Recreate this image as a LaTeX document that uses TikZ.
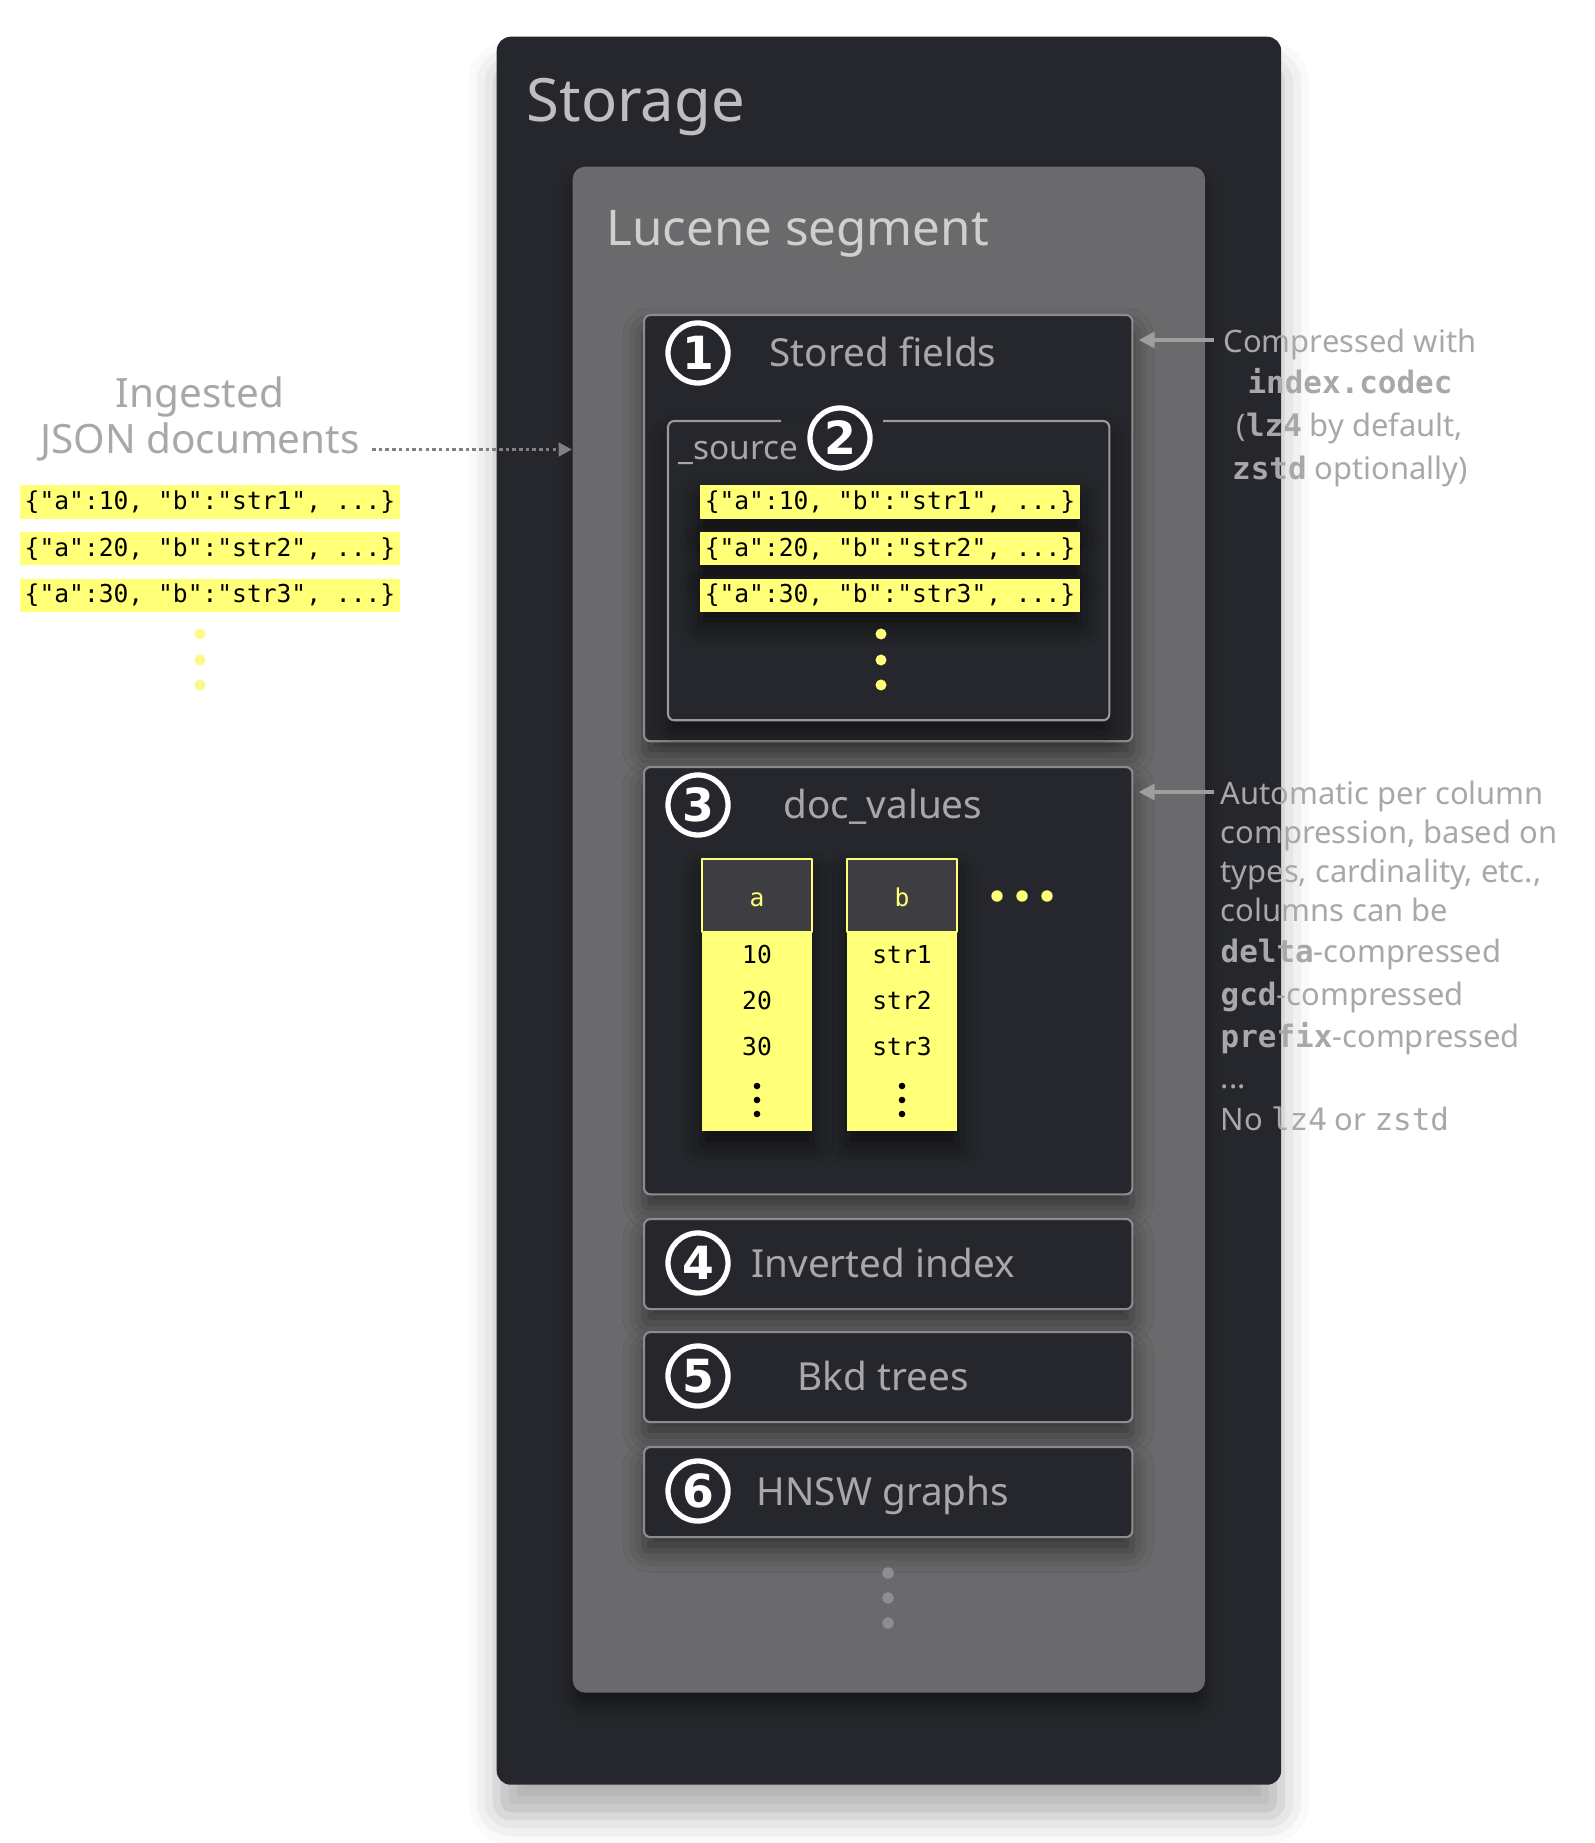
\documentclass[tikz,border=0pt]{standalone}
\usepackage{fontspec}
\setmainfont{Noto Sans}
\setmonofont{DejaVu Sans Mono}
\newfontfamily\numfont{DejaVu Sans}
\usetikzlibrary{arrows.meta,shadows.blur}
\definecolor{darkbg}{HTML}{26272C}
\definecolor{segbg}{HTML}{6A6A6C}
\definecolor{panelline}{HTML}{8C8C8E}
\definecolor{srcline}{HTML}{9A9A9C}
\definecolor{hlyellow}{HTML}{FFFF78}
\definecolor{paleyellow}{HTML}{FAFA8A}
\definecolor{headbg}{HTML}{3E3E42}
\definecolor{txtgray}{HTML}{A8A8A8}
\definecolor{titlegray}{HTML}{BEBEBE}
\definecolor{segtitle}{HTML}{CFCFCF}
\definecolor{arrowgray}{HTML}{9E9E9E}
\definecolor{feedgray}{HTML}{808080}
\definecolor{dotgray}{HTML}{8E8E90}
\newcommand{\fsz}[1]{\fontsize{#1}{#1}\selectfont}
\tikzset{
	outerbox/.style={fill=darkbg,rounded corners=4pt,anchor=north west,inner sep=0pt,
		blur shadow={shadow xshift=0pt,shadow yshift=-9pt,shadow blur radius=8pt,shadow opacity=30}},
	segbox/.style={fill=segbg,rounded corners=3.5pt,anchor=north west,inner sep=0pt,
		blur shadow={shadow xshift=0pt,shadow yshift=-4pt,shadow blur radius=4pt,shadow opacity=40}},
	panel/.style={fill=darkbg,draw=panelline,line width=0.6pt,rounded corners=1.8pt,anchor=north west,inner sep=0pt,
		blur shadow={shadow xshift=0pt,shadow yshift=-4pt,shadow blur radius=6pt,shadow opacity=50}},
	num/.style={circle,draw=white,line width=1.5pt,minimum size=0.6cm,inner sep=0pt,text=white,font=\numfont\bfseries\fsz{13}},
	paneltitle/.style={anchor=base,text=txtgray,font=\fsz{11}},
	jsonrow/.style={fill=hlyellow,minimum width=3.8cm,minimum height=0.33cm,inner sep=0pt,text=black,font=\ttfamily\fsz{7}},
	rowshadow/.style={blur shadow={shadow xshift=0pt,shadow yshift=-4pt,shadow blur radius=6pt,shadow opacity=60}},
	colbody/.style={fill=hlyellow,minimum width=1.1cm,minimum height=2.72cm,inner sep=0pt,rowshadow},
	colhead/.style={fill=headbg,draw=hlyellow,line width=0.7pt,minimum width=1.1cm,minimum height=0.73cm,inner sep=0pt,
		text=hlyellow,font=\ttfamily\fsz{7},text height=6pt,text depth=0pt},
	cellval/.style={anchor=base,inner sep=0pt,text=black,font=\ttfamily\fsz{7}},
	anntext/.style={inner sep=0pt,text=txtgray,font=\fsz{8.8}},
	annarrow/.style={draw=arrowgray,line width=0.9pt,-{Triangle[length=4.5pt,width=4.5pt]},shorten >=1.5pt},
	feedarrow/.style={draw=feedgray,line width=1pt,dash pattern=on 1pt off 0.9pt,-{Triangle[length=3.8pt,width=3.8pt]}}
}
\begin{document}
\begin{tikzpicture}[x=0.01cm,y=-0.01cm,line join=round]
	\useasboundingbox (0,0) rectangle (1594,1843);
	% storage and segment
	\node[outerbox,minimum width=7.84cm,minimum height=17.47cm] (storage) at (496,36) {};
	\node[anchor=base west,inner sep=0pt,text=titlegray,font=\fsz{17}] (storagetitle) at (526,122) {Storage};
	\node[segbox,minimum width=6.32cm,minimum height=15.25cm] (lucene) at (572,166) {};
	\node[anchor=base west,inner sep=0pt,text=segtitle,font=\fsz{14}] (lucenetitle) at (606,246) {Lucene segment};
	% stored fields
	\node[panel,minimum width=4.88cm,minimum height=4.26cm] (stored) at (643,314) {};
	\node[num] (n1) at (698,353) {1};
	\node[paneltitle] (storedtitle) at (883,367) {Stored fields};
	\node[panel,draw=none,minimum width=4.39cm,minimum height=2.97cm] (source) at (668,421) {};
	\draw[srcline,line width=0.6pt,rounded corners=1.8pt] ([xshift=1.13cm]source.north west) -| (source.south west)
		-| (source.north east) -- ([xshift=-2.26cm]source.north east);
	\node[num] (n2) at (840,438) {2};
	\node[anchor=base west,inner sep=0pt,text=txtgray,font=\fsz{9.5}] (sourcelabel) at (678,460) {\_source};
	\foreach \v/\s [count=\i] in {10/1,20/2,30/3}{
		\node[jsonrow,rowshadow] (src\i) at (890,{455.3+46.7*\i}) {\{"a":\v, "b":"str\s", ...\}};
		\node[jsonrow] (ing\i) at (210,{455.3+46.7*\i}) {\{"a":\v, "b":"str\s", ...\}};
	}
	\foreach \yy in {634,660,685}{
		\fill[hlyellow] (881,\yy) circle (0.055cm);
		\fill[paleyellow] (200,\yy) circle (0.056cm);
	}
	% ingested documents
	\node[anchor=base,text=txtgray,font=\fsz{11.5}] (ingtitle) at (200,408) {Ingested};
	\node[anchor=base,text=txtgray,font=\fsz{11.5}] (ingest) at (200,454) {JSON documents};
	\draw[feedarrow] ([yshift=-2pt]ingest.east) -- ([yshift=-2pt]ingest.east -| lucene.west);
	% doc values
	\node[panel,minimum width=4.88cm,minimum height=4.27cm] (docvalues) at (643,766) {};
	\node[num] (n3) at (698,805) {3};
	\node[paneltitle] (doctitle) at (883,818) {doc\_values};
	\foreach \cx/\hd/\va/\vb/\vc in {757/a/10/20/30,902/b/str1/str2/str3}{
		\node[colbody] (col\hd) at (\cx,995) {};
		\node[colhead] (head\hd) at (\cx,895.5) {\hd};
		\node[cellval] at (\cx,963) {\va};
		\node[cellval] at (\cx,1009) {\vb};
		\node[cellval] at (\cx,1055) {\vc};
		\foreach \yy in {1086,1100,1114}
			\fill[black] (\cx,\yy) circle (0.033cm);
	}
	\foreach \xx in {997,1022,1047}
		\fill[hlyellow] (\xx,896) circle (0.057cm);
	% other parts
	\foreach \nm/\nn/\tp/\txt in {inv/4/1218/Inverted index,bkd/5/1331/Bkd trees,hnsw/6/1446/HNSW graphs}{
		\node[panel,minimum width=4.88cm,minimum height=0.9cm] (\nm) at (643,\tp) {};
		\node[num] (n\nn) at (698,\tp+45) {\nn};
		\node[paneltitle] (\nm title) at (883,\tp+59) {\txt};
	}
	\foreach \yy in {1573,1598,1623}
		\fill[dotgray] (888,\yy) circle (0.057cm);
	% notes
	\coordinate (c1) at (1214,340);
	\draw[annarrow] (c1) -- (c1 -| stored.east);
	\foreach \annline/\yy [count=\i] in {{Compressed with}/353,{\ttfamily\bfseries index.codec}/394,
		{(\texttt{\bfseries lz4} by default,}/437,{\texttt{\bfseries zstd} optionally)}/480}
		\node[anntext,anchor=base] (notesf\i) at (1350,\yy) {\annline};
	\coordinate (c3) at (1214,792);
	\draw[annarrow] (c3) -- (c3 -| docvalues.east);
	\foreach \annline/\yy [count=\i] in {{Automatic per column}/804,{compression, based on}/843,
		{types, cardinality, etc.,}/882,{columns can be}/921,{\texttt{\bfseries delta}-compressed}/962,
		{\texttt{\bfseries gcd}-compressed}/1005,{\texttt{\bfseries prefix}-compressed}/1047,{.{}.{}.}/1088,
		{No \texttt{lz4} or \texttt{zstd}}/1130}
		\node[anntext,anchor=base west] (notedv\i) at (1220,\yy) {\annline};
\end{tikzpicture}
\end{document}
